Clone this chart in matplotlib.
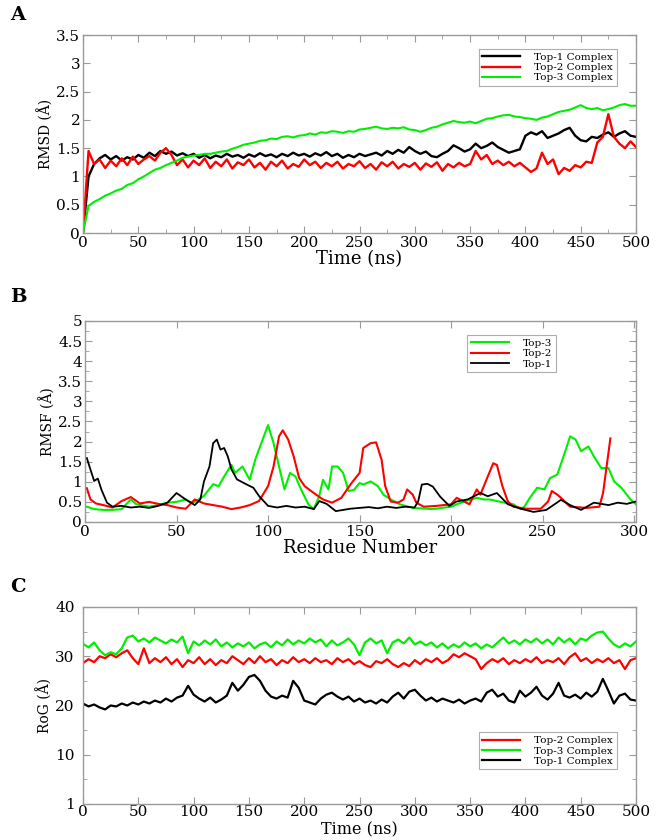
import matplotlib
matplotlib.use("Agg")
import matplotlib.pyplot as plt
from matplotlib.ticker import MultipleLocator, FixedLocator

plt.rcParams['font.family'] = ['DejaVu Serif']

# ---------------- Panel A: RMSD vs time ----------------
time_ns = list(range(0, 501, 5))
rmsd_top1 = [
    0.00, 1.00, 1.22, 1.32, 1.38, 1.30, 1.36, 1.28, 1.34, 1.30,
    1.38, 1.33, 1.42, 1.36, 1.45, 1.40, 1.44, 1.37, 1.41, 1.36,
    1.40, 1.33, 1.38, 1.32, 1.37, 1.34, 1.40, 1.35, 1.38, 1.33,
    1.39, 1.35, 1.41, 1.36, 1.39, 1.34, 1.40, 1.36, 1.42, 1.37,
    1.40, 1.35, 1.41, 1.37, 1.43, 1.36, 1.40, 1.33, 1.38, 1.34,
    1.40, 1.36, 1.39, 1.42, 1.37, 1.45, 1.40, 1.47, 1.42, 1.52,
    1.45, 1.40, 1.44, 1.36, 1.34, 1.40, 1.45, 1.55, 1.50, 1.44,
    1.48, 1.58, 1.50, 1.54, 1.60, 1.52, 1.47, 1.42, 1.45, 1.48,
    1.72, 1.78, 1.74, 1.80, 1.68, 1.72, 1.76, 1.82, 1.86, 1.72,
    1.64, 1.62, 1.70, 1.68, 1.74, 1.78, 1.70, 1.76, 1.80, 1.72,
    1.70]
rmsd_top2 = [
    0.00, 1.45, 1.22, 1.30, 1.15, 1.28, 1.18, 1.32, 1.20, 1.35,
    1.22, 1.30, 1.36, 1.28, 1.42, 1.50, 1.38, 1.20, 1.30, 1.16,
    1.28, 1.20, 1.32, 1.15, 1.26, 1.18, 1.30, 1.14, 1.25, 1.20,
    1.30, 1.16, 1.24, 1.12, 1.26, 1.18, 1.28, 1.14, 1.22, 1.17,
    1.30, 1.20, 1.26, 1.15, 1.24, 1.18, 1.26, 1.14, 1.22, 1.18,
    1.27, 1.15, 1.22, 1.12, 1.25, 1.18, 1.26, 1.14, 1.22, 1.17,
    1.24, 1.12, 1.23, 1.17, 1.25, 1.10, 1.22, 1.16, 1.24, 1.18,
    1.22, 1.45, 1.30, 1.38, 1.22, 1.28, 1.20, 1.26, 1.18, 1.24,
    1.16, 1.08, 1.14, 1.42, 1.22, 1.30, 1.04, 1.15, 1.10, 1.20,
    1.16, 1.26, 1.24, 1.60, 1.70, 2.10, 1.70, 1.58, 1.50, 1.62,
    1.52]
rmsd_top3 = [
    0.00, 0.48, 0.55, 0.60, 0.66, 0.70, 0.75, 0.78, 0.85, 0.88,
    0.95, 1.00, 1.06, 1.12, 1.15, 1.20, 1.24, 1.28, 1.33, 1.35,
    1.37, 1.38, 1.40, 1.40, 1.42, 1.44, 1.45, 1.49, 1.52, 1.56,
    1.58, 1.60, 1.63, 1.64, 1.67, 1.66, 1.70, 1.71, 1.69, 1.72,
    1.73, 1.76, 1.74, 1.78, 1.77, 1.80, 1.79, 1.77, 1.80, 1.79,
    1.83, 1.84, 1.86, 1.88, 1.85, 1.84, 1.86, 1.85, 1.87, 1.83,
    1.82, 1.79, 1.82, 1.86, 1.88, 1.92, 1.95, 1.98, 1.96, 1.95,
    1.97, 1.94, 1.98, 2.02, 2.03, 2.06, 2.08, 2.09, 2.06, 2.05,
    2.03, 2.02, 2.00, 2.04, 2.06, 2.10, 2.14, 2.16, 2.18, 2.22,
    2.26, 2.21, 2.19, 2.21, 2.17, 2.19, 2.22, 2.26, 2.28, 2.25,
    2.25]

# ---------------- Panel B: RMSF vs residue ----------------
res_top3 = [1, 5, 10, 15, 20, 25, 28, 35, 40, 45, 50, 55, 58, 60, 65, 70, 73, 76, 80, 82,
            86, 90, 93, 96, 99, 100, 103, 106, 109, 112, 115, 118, 122, 125, 128, 130, 133, 135, 138, 141,
            144, 147, 150, 152, 156, 160, 163, 167, 172, 179, 190, 200, 207, 214, 218, 221, 229, 234, 238, 240,
            243, 247, 251, 254, 258, 262, 265, 268, 271, 275, 278, 282, 286, 289, 293, 298, 301]
rmsf_top3 = [0.38, 0.32, 0.30, 0.30, 0.32, 0.56, 0.44, 0.38, 0.42, 0.48, 0.50, 0.56, 0.48, 0.50, 0.65, 0.94, 0.89, 1.13, 1.42, 1.22,
             1.38, 1.05, 1.55, 1.92, 2.29, 2.41, 1.96, 1.38, 0.81, 1.22, 1.13, 0.81, 0.44, 0.32, 0.65, 1.05, 0.81, 1.38, 1.38, 1.22,
             0.77, 0.80, 0.97, 0.93, 1.01, 0.89, 0.68, 0.56, 0.44, 0.35, 0.32, 0.38, 0.51, 0.60, 0.56, 0.56, 0.48, 0.44, 0.32, 0.38,
             0.60, 0.85, 0.81, 1.09, 1.18, 1.71, 2.13, 2.05, 1.76, 1.88, 1.63, 1.34, 1.34, 1.01, 0.85, 0.56, 0.44]
res_top2 = [1, 3, 6, 10, 15, 20, 25, 30, 35, 40, 45, 50, 55, 60, 65, 70, 75, 80, 85, 90,
            95, 100, 103, 106, 108, 111, 114, 117, 120, 125, 130, 135, 140, 145, 147, 150, 152, 156, 159, 162,
            164, 167, 171, 174, 176, 179, 181, 185, 192, 200, 203, 207, 210, 214, 216, 220, 223, 225, 228, 231,
            234, 241, 249, 253, 255, 258, 260, 265, 274, 281, 283, 287]
rmsf_top2 = [0.84, 0.56, 0.46, 0.42, 0.36, 0.52, 0.62, 0.46, 0.50, 0.45, 0.42, 0.36, 0.33, 0.56, 0.46, 0.42, 0.38, 0.32, 0.36, 0.42,
             0.52, 0.89, 1.38, 2.13, 2.28, 2.05, 1.63, 1.09, 0.89, 0.72, 0.56, 0.48, 0.60, 0.93, 1.05, 1.22, 1.84, 1.96, 1.98, 1.55,
             0.89, 0.51, 0.48, 0.56, 0.81, 0.68, 0.48, 0.38, 0.40, 0.44, 0.60, 0.51, 0.44, 0.81, 0.68, 1.13, 1.46, 1.42, 0.89, 0.51,
             0.38, 0.33, 0.33, 0.51, 0.77, 0.68, 0.60, 0.38, 0.35, 0.38, 0.72, 2.08]
res_top1 = [1, 3, 5, 7, 9, 12, 15, 20, 25, 30, 35, 40, 45, 50, 55, 60, 63, 65, 68, 70,
            72, 74, 76, 78, 80, 83, 88, 92, 95, 100, 105, 110, 115, 120, 125, 128, 132, 137, 145, 150,
            155, 160, 165, 170, 175, 180, 182, 184, 187, 190, 194, 199, 203, 209, 216, 220, 225, 231, 238, 245,
            252, 260, 265, 271, 278, 286, 291, 296, 301]
rmsf_top1 = [1.59, 1.30, 1.02, 1.08, 0.80, 0.48, 0.38, 0.40, 0.36, 0.38, 0.35, 0.40, 0.48, 0.72, 0.56, 0.42, 0.56, 1.01, 1.38, 1.96,
             2.05, 1.80, 1.84, 1.63, 1.31, 1.06, 0.94, 0.85, 0.65, 0.40, 0.36, 0.40, 0.36, 0.38, 0.32, 0.52, 0.45, 0.27, 0.33, 0.35,
             0.37, 0.34, 0.38, 0.35, 0.38, 0.36, 0.51, 0.93, 0.95, 0.88, 0.63, 0.40, 0.51, 0.56, 0.72, 0.64, 0.72, 0.44, 0.33, 0.25,
             0.30, 0.55, 0.42, 0.30, 0.48, 0.42, 0.48, 0.45, 0.51]

# ---------------- Panel C: RoG vs time ----------------
rog_top3 = [
    32.5, 31.8, 32.8, 31.2, 30.2, 30.8, 30.4, 31.6, 33.8, 34.2,
    33.0, 33.6, 32.8, 33.8, 33.2, 32.6, 33.4, 32.8, 34.0, 30.6,
    33.0, 32.2, 33.2, 32.4, 33.4, 32.0, 32.8, 31.8, 32.6, 32.0,
    32.8, 31.6, 32.4, 32.8, 31.8, 33.0, 32.2, 33.4, 32.4, 33.2,
    32.6, 33.6, 32.8, 33.4, 32.0, 33.2, 32.2, 32.8, 33.6, 32.4,
    30.2, 32.8, 33.6, 32.6, 33.2, 30.6, 32.8, 33.4, 32.6, 33.8,
    32.4, 33.0, 32.2, 32.8, 31.8, 32.6, 31.6, 32.4, 31.8, 32.8,
    32.0, 32.6, 31.6, 32.4, 31.8, 32.8, 33.8, 32.6, 33.2, 32.4,
    33.4, 32.8, 33.6, 32.6, 33.4, 32.4, 33.8, 32.8, 33.6, 32.4,
    33.6, 33.2, 34.2, 34.8, 35.0, 33.6, 32.4, 31.8, 32.6, 32.0,
    33.0]
rog_top2 = [
    28.6, 29.4, 28.8, 30.0, 29.6, 30.4, 29.8, 30.6, 31.2, 29.6,
    28.4, 31.6, 28.6, 29.6, 28.8, 29.8, 28.4, 29.4, 27.8, 29.2,
    28.6, 29.8, 28.4, 29.4, 28.2, 29.2, 28.6, 30.0, 29.2, 28.4,
    29.6, 28.6, 30.0, 28.8, 29.4, 28.2, 29.2, 28.6, 29.8, 28.8,
    29.4, 28.6, 29.6, 28.8, 29.2, 28.4, 29.6, 28.8, 29.4, 28.4,
    29.0, 28.2, 27.8, 29.0, 28.6, 29.4, 28.4, 27.8, 28.6, 28.0,
    29.2, 28.4, 29.4, 28.8, 29.6, 28.6, 29.2, 30.4, 29.8, 30.6,
    30.0, 29.4, 27.4, 28.6, 29.4, 28.8, 29.6, 28.4, 29.2, 28.6,
    29.4, 28.8, 29.8, 28.6, 29.2, 28.8, 29.6, 28.4, 29.8, 30.6,
    29.0, 29.6, 28.6, 29.4, 28.8, 29.6, 28.6, 29.2, 27.4, 29.2,
    29.6]
rog_top1 = [
    20.4, 19.8, 20.2, 19.6, 19.2, 20.0, 19.8, 20.4, 20.0, 20.6,
    20.2, 20.8, 20.4, 21.0, 20.6, 21.4, 20.8, 21.6, 22.0, 24.0,
    22.2, 21.4, 20.8, 21.6, 20.6, 21.2, 22.0, 24.6, 23.0, 24.2,
    25.8, 26.2, 25.0, 23.0, 21.8, 21.4, 22.0, 21.6, 25.0, 23.6,
    21.0, 20.6, 20.2, 21.4, 22.2, 22.6, 21.8, 21.2, 21.8, 20.8,
    21.4, 20.6, 21.0, 20.4, 21.2, 20.6, 21.8, 22.6, 21.4, 22.8,
    23.2, 22.0, 21.0, 21.6, 20.8, 21.4, 21.0, 20.6, 21.2, 20.4,
    21.0, 21.4, 20.8, 22.6, 23.2, 21.8, 22.4, 21.0, 20.6, 23.0,
    21.8, 22.6, 23.8, 22.0, 21.2, 22.4, 24.6, 22.0, 21.6, 22.2,
    21.4, 22.6, 21.8, 22.8, 25.4, 23.0, 20.4, 22.0, 22.4, 21.2,
    21.0]
rog_ticks = [0, 10, 20, 30, 40]
rog_ticklabels = ["1", "10", "20", "30", "40"]

BLACK, RED, GREEN = "#000000", "#ff0000", "#00ee00"
FRAME = "#9a9a9a"

fig = plt.figure(figsize=(6.61, 8.40), dpi=100)
axA = fig.add_axes([0.1256, 0.7226, 0.8366, 0.2357])
axB = fig.add_axes([0.1286, 0.3786, 0.8336, 0.2393])
axC = fig.add_axes([0.1256, 0.0429, 0.8366, 0.2345])


def style(ax):
    for s in ax.spines.values():
        s.set_color(FRAME)
        s.set_linewidth(1.0)
    ax.tick_params(which='both', direction='in', top=True, right=True,
                   color=FRAME, labelsize=11, pad=2)
    ax.tick_params(which='major', length=5)
    ax.tick_params(which='minor', length=3)


def legend(ax, loc, anchor):
    leg = ax.legend(loc=loc, bbox_to_anchor=anchor, fontsize=7.5, frameon=True,
                    fancybox=False, edgecolor=FRAME, handlelength=3.6,
                    borderpad=0.35, labelspacing=0.1, handletextpad=1.4,
                    borderaxespad=0.0)
    leg.get_frame().set_linewidth(0.8)


def xlabel(ax, text, ycoord, size=13):
    ax.set_xlabel(text, fontsize=size, va='center')
    ax.xaxis.set_label_coords(0.5, ycoord)


# Panel A
axA.plot(time_ns, rmsd_top1, color=BLACK, lw=1.7, label="Top-1 Complex")
axA.plot(time_ns, rmsd_top2, color=RED, lw=1.7, label="Top-2 Complex")
axA.plot(time_ns, rmsd_top3, color=GREEN, lw=1.5, label="Top-3 Complex")
axA.set_xlim(0, 500)
axA.set_ylim(0, 3.5)
axA.xaxis.set_major_locator(MultipleLocator(50))
axA.xaxis.set_minor_locator(MultipleLocator(25))
axA.yaxis.set_major_locator(MultipleLocator(0.5))
axA.yaxis.set_major_formatter(plt.FuncFormatter(lambda v, p: f"{v:g}"))
style(axA)
xlabel(axA, "Time (ns)", -0.13)
axA.set_ylabel("RMSD (Å)", fontsize=10, labelpad=2)
legend(axA, "upper right", (0.965, 0.93))

# Panel B
axB.plot(res_top3, rmsf_top3, color=GREEN, lw=1.5, label="Top-3")
axB.plot(res_top2, rmsf_top2, color=RED, lw=1.5, label="Top-2")
axB.plot(res_top1, rmsf_top1, color=BLACK, lw=1.3, label="Top-1")
axB.set_xlim(0, 301)
axB.set_ylim(0, 5)
axB.xaxis.set_major_locator(MultipleLocator(50))
axB.yaxis.set_major_locator(MultipleLocator(0.5))
axB.yaxis.set_minor_locator(MultipleLocator(0.25))
axB.yaxis.set_major_formatter(plt.FuncFormatter(lambda v, p: f"{v:g}"))
style(axB)
xlabel(axB, "Residue Number", -0.13)
axB.set_ylabel("RMSF (Å)", fontsize=10, labelpad=2)
legend(axB, "upper right", (0.855, 0.93))

# Panel C
axC.plot(time_ns, rog_top2, color=RED, lw=1.6, label="Top-2 Complex")
axC.plot(time_ns, rog_top3, color=GREEN, lw=1.6, label="Top-3 Complex")
axC.plot(time_ns, rog_top1, color=BLACK, lw=1.6, label="Top-1 Complex")
axC.set_xlim(0, 500)
axC.set_ylim(0, 40)
axC.xaxis.set_major_locator(MultipleLocator(50))
axC.yaxis.set_major_locator(FixedLocator(rog_ticks))
axC.set_yticklabels(rog_ticklabels)
axC.yaxis.set_minor_locator(MultipleLocator(5))
style(axC)
axC.tick_params(axis='x', pad=1)
axC.tick_params(axis='y', pad=6)
xlabel(axC, "Time (ns)", -0.13, size=11.5)
axC.set_ylabel("RoG (Å)", fontsize=10, labelpad=2)
legend(axC, "lower right", (0.965, 0.175))

for letter, y in [("A", 0.993), ("B", 0.657), ("C", 0.312)]:
    fig.text(0.015, y, letter, fontsize=14, fontweight='bold', va='top', ha='left')

fig.savefig("out.png", dpi=100)
